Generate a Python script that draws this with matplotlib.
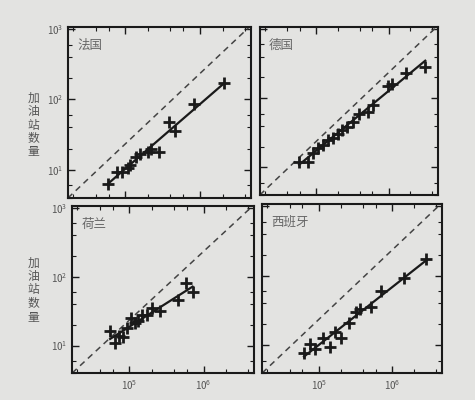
import numpy as np
import matplotlib.pyplot as plt
from matplotlib.ticker import LogLocator, NullFormatter

plt.rcParams['font.family'] = ['Noto Sans CJK SC', 'DejaVu Sans']

# 法国
fr_x = [5.9e4, 7.8e4, 8.9e4, 1.07e5, 1.17e5, 1.37e5, 1.55e5, 2.0e5, 2.2e5, 2.8e5, 3.8e5, 4.6e5, 8.3e5, 2.1e6]
fr_y = [6.3, 9.4, 9.4, 10.7, 11.8, 15.4, 17, 18.2, 19.5, 18.2, 48, 35.5, 85, 170]

# 德国
de_x = [5.9e4, 7.7e4, 9.1e4, 1.07e5, 1.24e5, 1.45e5, 1.7e5, 2.0e5, 2.3e5, 2.7e5,
        3.2e5, 3.9e5, 5.2e5, 6.1e5, 9.7e5, 1.13e6, 1.75e6, 3.2e6]
de_y = [11.9, 11.9, 16.2, 19.2, 21.3, 24.5, 27, 30, 34.5, 38,
        45, 60, 64, 81, 150, 163, 230, 280]

# 荷兰
nl_x = [5.5e4, 6.5e4, 7.3e4, 8.3e4, 9.4e4, 1.06e5, 1.2e5, 1.32e5, 1.5e5, 1.75e5, 2.0e5, 2.6e5, 4.5e5, 5.7e5, 7.1e5]
nl_y = [16, 11, 13.6, 13.1, 17.8, 25, 21, 23, 27.6, 27.6, 35, 31.5, 46, 82, 60]

# 西班牙
es_x = [6.3e4, 7.6e4, 8.8e4, 1.13e5, 1.41e5, 1.65e5, 2.0e5, 2.6e5, 3.2e5, 3.6e5, 5.2e5, 7.1e5, 1.45e6, 2.9e6]
es_y = [7.6, 10.3, 8.7, 12.7, 9.3, 15.6, 12.7, 21, 30, 33, 35.6, 60, 91, 174]

names = ['法国', '德国', '荷兰', '西班牙']
xs = [fr_x, de_x, nl_x, es_x]
ys = [fr_y, de_y, nl_y, es_y]

bg = '#e3e3e1'
fig = plt.figure(figsize=(4.75, 4.0), dpi=100, facecolor=bg)

positions = [[0.143, 0.505, 0.385, 0.4275],
             [0.547, 0.5125, 0.375, 0.42],
             [0.152, 0.0675, 0.383, 0.4175],
             [0.552, 0.0675, 0.379, 0.4225]]

xlo, xhi = 10**4.23, 10**6.68
ylo, yhi = 10**0.6, 10**3.03

for i in range(4):
    ax = fig.add_axes(positions[i], facecolor=bg)
    ax.set_xscale('log')
    ax.set_yscale('log')

    # y = x 比例线
    dx = np.array([xlo, xhi])
    ax.plot(dx, dx * 10**(0.6 - 4.23), ls=(0, (4, 3)), color='#444444', lw=1.1)

    x = np.array(xs[i])
    y = np.array(ys[i])
    k, b = np.polyfit(np.log10(x), np.log10(y), 1)
    fx = np.array([x.min(), x.max()])
    ax.plot(fx, 10**(k * np.log10(fx) + b), color='#1a1a1a', lw=1.6)
    ax.plot(x, y, ls='none', marker='+', ms=8, mew=2.0, color='#1a1a1a')

    ax.set_xlim(xlo, xhi)
    ax.set_ylim(ylo, yhi)

    for s in ax.spines.values():
        s.set_linewidth(1.5)
        s.set_color('#1a1a1a')

    for axis in (ax.xaxis, ax.yaxis):
        axis.set_major_locator(LogLocator(base=10, numticks=10))
        axis.set_minor_locator(LogLocator(base=10, subs=[2, 4, 6], numticks=10))
        axis.set_minor_formatter(NullFormatter())
    ax.tick_params(which='both', direction='in', top=True, right=True, colors='#1a1a1a',
                   labelcolor='#555555', labelsize=7)
    ax.tick_params(which='major', length=5, width=1.0)
    ax.tick_params(which='minor', length=3, width=0.8)

    if i < 2:
        ax.tick_params(labelbottom=False)
    if i % 2 == 1:
        ax.tick_params(labelleft=False)

    ax.text(0.05, 0.93, names[i], transform=ax.transAxes, ha='left', va='top',
            fontsize=9, color='#666666')

for yc in [0.6875, 0.275]:
    fig.text(0.07, yc, '加\n油\n站\n数\n量', ha='center', va='center',
             fontsize=8.5, color='#555555', linespacing=1.05)

fig.savefig('out.png', dpi=100, facecolor=bg)
